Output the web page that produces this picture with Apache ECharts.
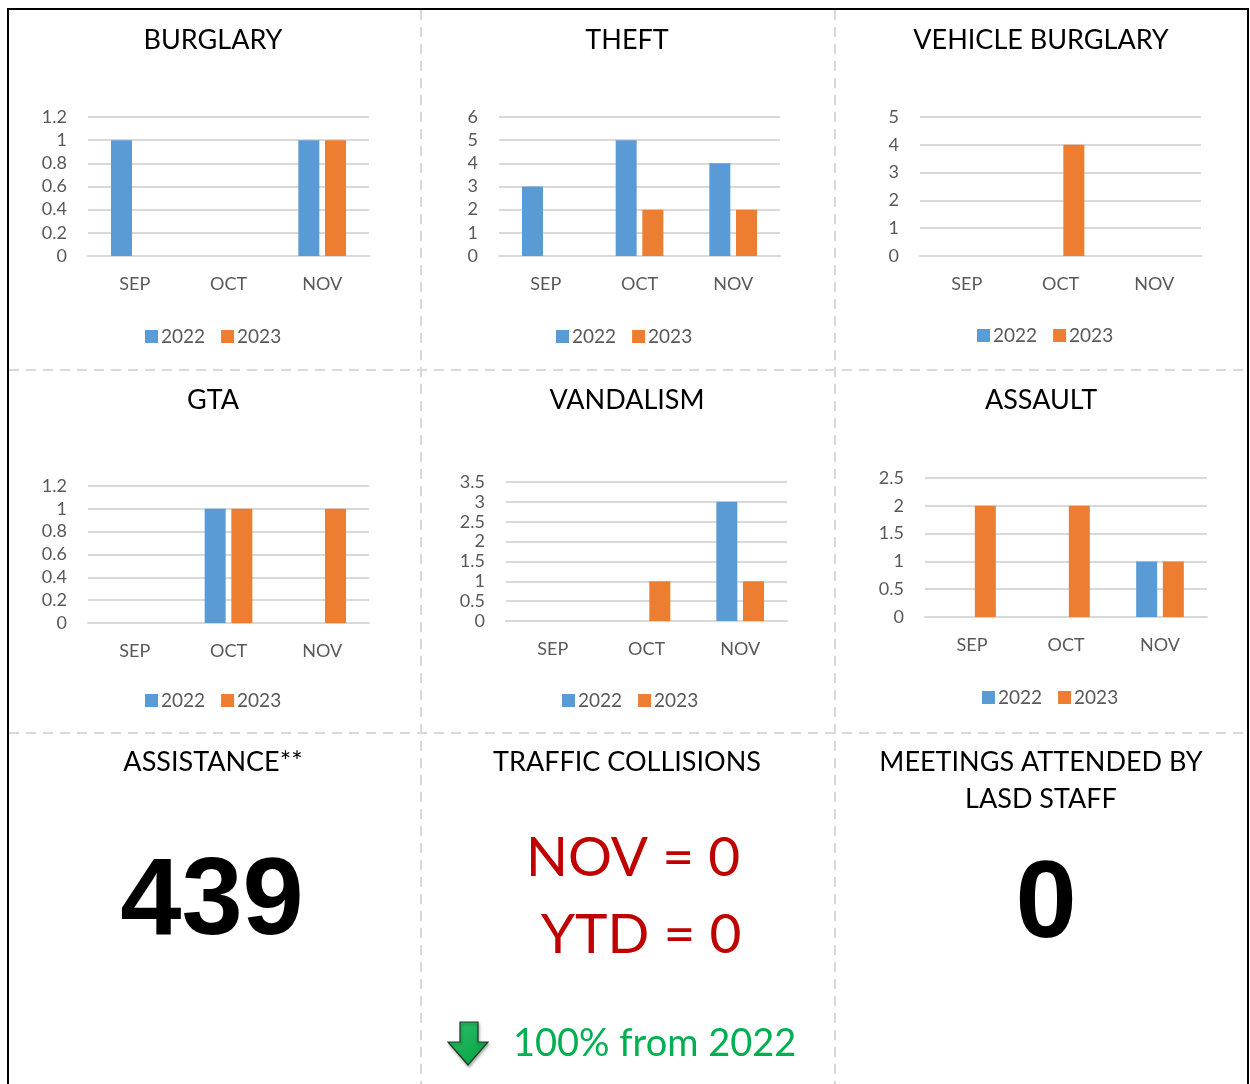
<!DOCTYPE html>
<html>
<head>
<meta charset="utf-8">
<title>Station Crime Summary</title>
<script src="https://cdn.jsdelivr.net/npm/echarts@6/dist/echarts.min.js"></script>
<style>
  html, body { margin: 0; padding: 0; background: #fff; }
  #board { width: 1250px; height: 1084px; }
</style>
</head>
<body>
<div id="board"></div>
<script>
// Monthly counts, 2022 vs 2023
const months = ['SEP', 'OCT', 'NOV'];
const seriesNames = ['2022', '2023'];

const burglary2022 = [1, 0, 1];
const burglary2023 = [0, 0, 1];
const theft2022 = [3, 5, 4];
const theft2023 = [0, 2, 2];
const vehicleBurglary2022 = [0, 0, 0];
const vehicleBurglary2023 = [0, 4, 0];
const gta2022 = [0, 1, 0];
const gta2023 = [0, 1, 1];
const vandalism2022 = [0, 0, 3];
const vandalism2023 = [0, 1, 1];
const assault2022 = [0, 0, 1];
const assault2023 = [2, 2, 1];

// Value-axis ranges (max, step) for each panel
const axisMax = [1.2, 6, 5, 1.2, 3.5, 2.5];
const axisStep = [0.2, 1, 1, 0.2, 0.5, 0.5];

const panelTitles = ['BURGLARY', 'THEFT', 'VEHICLE BURGLARY', 'GTA', 'VANDALISM', 'ASSAULT'];
const panelData = [
  [burglary2022, burglary2023],
  [theft2022, theft2023],
  [vehicleBurglary2022, vehicleBurglary2023],
  [gta2022, gta2023],
  [vandalism2022, vandalism2023],
  [assault2022, assault2023]
];

// Headline figures
const assistanceCount = 439;
const meetingsCount = 0;
const collisionsNov = 0;
const collisionsYtd = 0;
const collisionsChange = '100% from 2022';

const COLORS = ['#5B9BD5', '#ED7D31'];
const FONT = 'Lato, "Open Sans", sans-serif';
const LABEL_GRAY = '#595959';
const GRID_GRAY = '#D9D9D9';
const TITLE_FONT = '27px ' + FONT;

// Layout of each small chart
const grids = [
  { left: 88,  top: 117, width: 281, height: 139 },
  { left: 499, top: 117, width: 281, height: 139 },
  { left: 920, top: 117, width: 281, height: 139 },
  { left: 88,  top: 486, width: 281, height: 137 },
  { left: 506, top: 482, width: 281, height: 139 },
  { left: 925, top: 478, width: 282, height: 139 }
];
const titlePos = [[213, 40], [627, 40], [1041, 40], [213, 400], [627, 400], [1041, 400]];
const legendPos = [[145, 327], [556, 327], [977, 326], [145, 691], [562, 691], [982, 688]];

const xAxes = [], yAxes = [], series = [], legends = [], graphics = [];

grids.forEach((g, i) => {
  xAxes.push({
    type: 'category', gridIndex: i, data: months,
    axisLine: { show: true, lineStyle: { color: GRID_GRAY, width: 2 } },
    axisTick: { show: false },
    axisLabel: { color: LABEL_GRAY, fontFamily: FONT, fontSize: 18, margin: 19 }
  });
  yAxes.push({
    type: 'value', gridIndex: i, min: 0, max: axisMax[i], interval: axisStep[i],
    axisLine: { show: false }, axisTick: { show: false },
    splitLine: { lineStyle: { color: GRID_GRAY, width: 2 } },
    axisLabel: { color: LABEL_GRAY, fontFamily: FONT, fontSize: 18, margin: 21 }
  });
  panelData[i].forEach((vals, s) => {
    series.push({
      type: 'bar', name: seriesNames[s], xAxisIndex: i, yAxisIndex: i,
      data: vals, barWidth: 21, barGap: '27%',
      itemStyle: { color: COLORS[s] },
      emphasis: { disabled: true }
    });
  });
  legends.push({
    data: seriesNames, left: legendPos[i][0], top: legendPos[i][1],
    padding: 0, itemWidth: 13, itemHeight: 13, itemGap: 16,
    icon: 'rect', selectedMode: false,
    textStyle: { color: LABEL_GRAY, fontFamily: FONT, fontSize: 19, padding: [0, 0, 0, -2] }
  });
  graphics.push({
    type: 'text', x: titlePos[i][0], y: titlePos[i][1],
    style: { text: panelTitles[i], fill: '#000', font: TITLE_FONT, align: 'center', verticalAlign: 'middle' }
  });
});

// Panel frame: outer border and dashed dividers
const dash = { stroke: GRID_GRAY, lineWidth: 2, lineDash: [10, 7] };
graphics.push(
  { type: 'line', shape: { x1: 421, y1: 10, x2: 421, y2: 1084 }, style: dash },
  { type: 'line', shape: { x1: 835, y1: 10, x2: 835, y2: 1084 }, style: dash },
  { type: 'line', shape: { x1: 9, y1: 370, x2: 1247, y2: 370 }, style: dash },
  { type: 'line', shape: { x1: 9, y1: 733, x2: 1247, y2: 733 }, style: dash },
  { type: 'polyline', shape: { points: [[8, 1084], [8, 9], [1248, 9], [1248, 1084]] },
    style: { stroke: '#000', lineWidth: 2, fill: null } }
);

// Bottom row headline tiles
const bigFont = 'bold 110px "Liberation Sans", Arial, sans-serif';
const redStyle = {
  fill: '#C00000', font: '55px ' + FONT, align: 'center', verticalAlign: 'middle',
  stroke: '#ffffff', lineWidth: 3,
  shadowColor: 'rgba(0,0,0,0.4)', shadowBlur: 4, shadowOffsetX: 1, shadowOffsetY: 2
};
graphics.push(
  { type: 'text', x: 213, y: 762, style: { text: 'ASSISTANCE**', fill: '#000', font: TITLE_FONT, align: 'center', verticalAlign: 'middle' } },
  { type: 'text', x: 212, y: 904, style: { text: String(assistanceCount), fill: '#000', font: bigFont, align: 'center', verticalAlign: 'middle' } },
  { type: 'text', x: 627, y: 762, style: { text: 'TRAFFIC COLLISIONS', fill: '#000', font: TITLE_FONT, align: 'center', verticalAlign: 'middle' } },
  { type: 'text', x: 633, y: 858, style: Object.assign({ text: 'NOV = ' + collisionsNov }, redStyle) },
  { type: 'text', x: 641, y: 935, style: Object.assign({ text: 'YTD = ' + collisionsYtd }, redStyle) },
  { type: 'polygon',
    shape: { points: [[460, 1022], [478, 1022], [478, 1042], [488, 1042], [468, 1065], [448, 1042], [460, 1042]] },
    style: {
      fill: { type: 'linear', x: 0, y: 0, x2: 1, y2: 1, colorStops: [{ offset: 0, color: '#33C06A' }, { offset: 1, color: '#00A040' }] },
      stroke: '#1E3B26', lineWidth: 1.2,
      shadowColor: 'rgba(0,0,0,0.3)', shadowBlur: 3, shadowOffsetX: 1, shadowOffsetY: 2
    } },
  { type: 'text', x: 513, y: 1044,
    style: { text: collisionsChange, fill: '#00B050', font: '38px ' + FONT, align: 'left', verticalAlign: 'middle',
      stroke: '#ffffff', lineWidth: 2, shadowColor: 'rgba(0,0,0,0.3)', shadowBlur: 3, shadowOffsetX: 1, shadowOffsetY: 1 } },
  { type: 'text', x: 1041, y: 762, style: { text: 'MEETINGS ATTENDED BY', fill: '#000', font: TITLE_FONT, align: 'center', verticalAlign: 'middle' } },
  { type: 'text', x: 1041, y: 799, style: { text: 'LASD STAFF', fill: '#000', font: TITLE_FONT, align: 'center', verticalAlign: 'middle' } },
  { type: 'text', x: 1046, y: 907, style: { text: String(meetingsCount), fill: '#000', font: bigFont, align: 'center', verticalAlign: 'middle' } }
);

const chart = echarts.init(document.getElementById('board'), null, { renderer: 'canvas' });
chart.setOption({
  backgroundColor: '#ffffff',
  animation: false,
  grid: grids,
  xAxis: xAxes,
  yAxis: yAxes,
  legend: legends,
  series: series,
  graphic: graphics
});
</script>
</body>
</html>
